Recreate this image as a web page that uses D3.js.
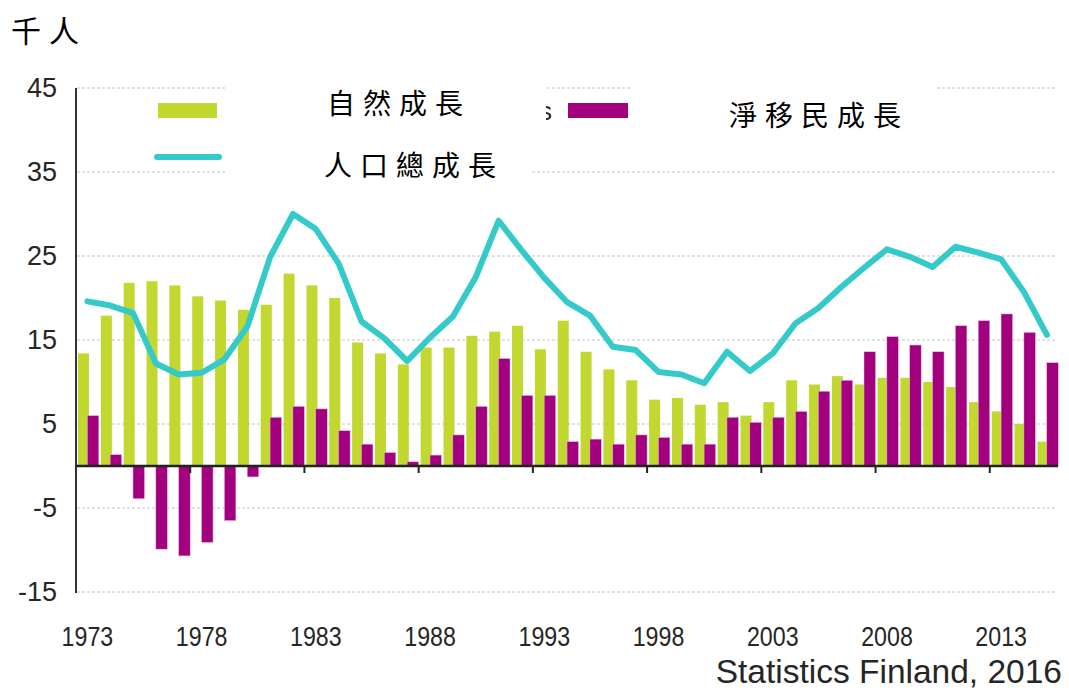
<!DOCTYPE html>
<html>
<head>
<meta charset="utf-8">
<script src="https://cdn.jsdelivr.net/npm/d3@7"></script>
<style>
  body { margin: 0; background: #fff; }
  svg { display: block; }
  .grid line { stroke: #c4c4c4; stroke-dasharray: 3,2; }
  .tick-label { font-family: Arial, "Liberation Sans", sans-serif; fill: #262626; }
  .zh { font-family: "Noto Sans CJK TC", "Noto Sans CJK SC", sans-serif; fill: #000; }
</style>
</head>
<body>
<div id="chart"></div>
<script>
// Finland population change, thousand persons
const years = d3.range(1973, 2016);
const natural = [13.4, 17.9, 21.8, 22.0, 21.5, 20.2, 19.7, 18.6, 19.2, 22.9,
                 21.5, 20.0, 14.7, 13.4, 12.1, 14.1, 14.1, 15.5, 16.0, 16.7,
                 13.9, 17.3, 13.6, 11.5, 10.2, 7.9, 8.1, 7.3, 7.6, 6.0,
                 7.6, 10.2, 9.7, 10.7, 9.7, 10.5, 10.5, 10.0, 9.4, 7.6,
                 6.5, 5.0, 2.9];
const migration = [6.0, 1.35, -3.9, -9.9, -10.7, -9.1, -6.5, -1.3, 5.8, 7.1,
                   6.8, 4.2, 2.6, 1.6, 0.5, 1.3, 3.7, 7.1, 12.8, 8.4,
                   8.4, 2.9, 3.2, 2.6, 3.7, 3.4, 2.6, 2.6, 5.8, 5.2,
                   5.8, 6.5, 8.9, 10.2, 13.6, 15.4, 14.4, 13.6, 16.7, 17.3,
                   18.1, 15.9, 12.3];
const total = [19.6, 19.1, 18.2, 12.2, 10.9, 11.1, 12.7, 16.6, 24.9, 30.0,
               28.2, 24.1, 17.2, 15.2, 12.5, 15.3, 17.8, 22.5, 29.2, 25.7,
               22.4, 19.5, 17.9, 14.2, 13.8, 11.2, 10.9, 9.85, 13.6, 11.3,
               13.4, 17.0, 18.8, 21.3, 23.6, 25.8, 24.9, 23.7, 26.1, 25.4,
               24.6, 20.7, 15.6];
const yTicks = [45, 35, 25, 15, 5, -5, -15];
const xLabelYears = [1973, 1978, 1983, 1988, 1993, 1998, 2003, 2008, 2013];

const W = 1069, H = 691;
const green = "#c2d72f", purple = "#a3007f", teal = "#35caca";

const svg = d3.select("#chart").append("svg")
  .attr("width", W).attr("height", H);

const x = d3.scaleBand().domain(years).range([76, 1058.3]).padding(0);
const y = d3.scaleLinear().domain([-15, 45]).range([592, 88]);
const bw = x.bandwidth();

// gridlines
svg.append("g").attr("class", "grid")
  .selectAll("line").data(yTicks).enter().append("line")
  .attr("x1", 77).attr("x2", 1056)
  .attr("y1", d => y(d)).attr("y2", d => y(d));

// y labels
svg.append("g").selectAll("text").data(yTicks).enter().append("text")
  .attr("class", "tick-label")
  .attr("x", 57).attr("y", d => y(d))
  .attr("dy", "0.35em")
  .attr("text-anchor", "end")
  .attr("font-size", 27)
  .text(d => d);

// bars
const data = years.map((yr, i) => ({ yr, n: natural[i], m: migration[i] }));

svg.append("g").selectAll("rect").data(data).enter().append("rect")
  .attr("x", d => x(d.yr) + 2)
  .attr("width", 11)
  .attr("y", d => y(Math.max(0, d.n)))
  .attr("height", d => Math.abs(y(d.n) - y(0)))
  .attr("fill", green);

svg.append("g").selectAll("rect").data(data).enter().append("rect")
  .attr("x", d => x(d.yr) + 11.3)
  .attr("width", 11.5)
  .attr("y", d => y(Math.max(0, d.m)))
  .attr("height", d => Math.abs(y(d.m) - y(0)))
  .attr("fill", purple)
  .attr("stroke", "#e9b6dc").attr("stroke-width", 0.5);

// total growth line
const line = d3.line()
  .x((d, i) => x(years[i]) + bw / 2)
  .y(d => y(d));

svg.append("path")
  .datum(total)
  .attr("d", line)
  .attr("fill", "none")
  .attr("stroke", teal)
  .attr("stroke-width", 6)
  .attr("stroke-linejoin", "round")
  .attr("stroke-linecap", "round");

// axes
svg.append("line")
  .attr("x1", 76).attr("x2", 76).attr("y1", 88).attr("y2", 593)
  .attr("stroke", "#333").attr("stroke-width", 2);
svg.append("line")
  .attr("x1", 76).attr("x2", 1058).attr("y1", y(0)).attr("y2", y(0))
  .attr("stroke", "#222").attr("stroke-width", 2.5);

svg.append("g").selectAll("line").data(xLabelYears.slice(1)).enter().append("line")
  .attr("x1", d => x(d)).attr("x2", d => x(d))
  .attr("y1", y(0)).attr("y2", y(0) + 7)
  .attr("stroke", "#222").attr("stroke-width", 2);

// x labels
svg.append("g").selectAll("text").data(xLabelYears).enter().append("text")
  .attr("class", "tick-label")
  .attr("transform", d => "translate(" + (x(d) + bw / 2) + ",646) scale(0.86,1)")
  .attr("text-anchor", "middle")
  .attr("font-size", 27)
  .text(d => d);

// legend swatches (original English labels are covered by Chinese overlays)
svg.append("rect").attr("x", 158).attr("y", 103).attr("width", 59).attr("height", 15)
  .attr("fill", green);
svg.append("line").attr("x1", 157).attr("x2", 219).attr("y1", 157).attr("y2", 157)
  .attr("stroke", teal).attr("stroke-width", 6).attr("stroke-linecap", "round");
svg.append("rect").attr("x", 568).attr("y", 103).attr("width", 60).attr("height", 15)
  .attr("fill", purple);

// white overlay boxes
[[225, 84, 322, 50], [225, 136, 305, 52], [632, 84, 305, 50]].forEach(b => {
  svg.append("rect").attr("x", b[0]).attr("y", b[1])
    .attr("width", b[2]).attr("height", b[3]).attr("fill", "#fff");
});

// visible tail of the covered English label
svg.append("clipPath").attr("id", "tail")
  .append("rect").attr("x", 546).attr("y", 95).attr("width", 12).attr("height", 30);
svg.append("text").attr("class", "tick-label")
  .attr("clip-path", "url(#tail)")
  .attr("x", 552).attr("y", 120).attr("text-anchor", "end")
  .attr("font-size", 26).attr("fill", "#000")
  .text("s");

// Chinese labels
function zh(txt, x0, cy, size, gap) {
  svg.append("text").attr("class", "zh")
    .attr("x", x0).attr("y", cy)
    .attr("dominant-baseline", "central")
    .attr("font-size", size)
    .attr("letter-spacing", gap)
    .text(txt);
}
zh("自然成長", 327, 102, 28, 8);
zh("人口總成長", 324, 164, 28, 8);
zh("淨移民成長", 729, 114, 28, 8);
zh("千人", 11, 29, 30, 8);

// source
svg.append("text").attr("class", "tick-label")
  .attr("x", 1062).attr("y", 683).attr("text-anchor", "end")
  .attr("font-size", 33.5).attr("fill", "#000")
  .text("Statistics Finland, 2016");
</script>
</body>
</html>
